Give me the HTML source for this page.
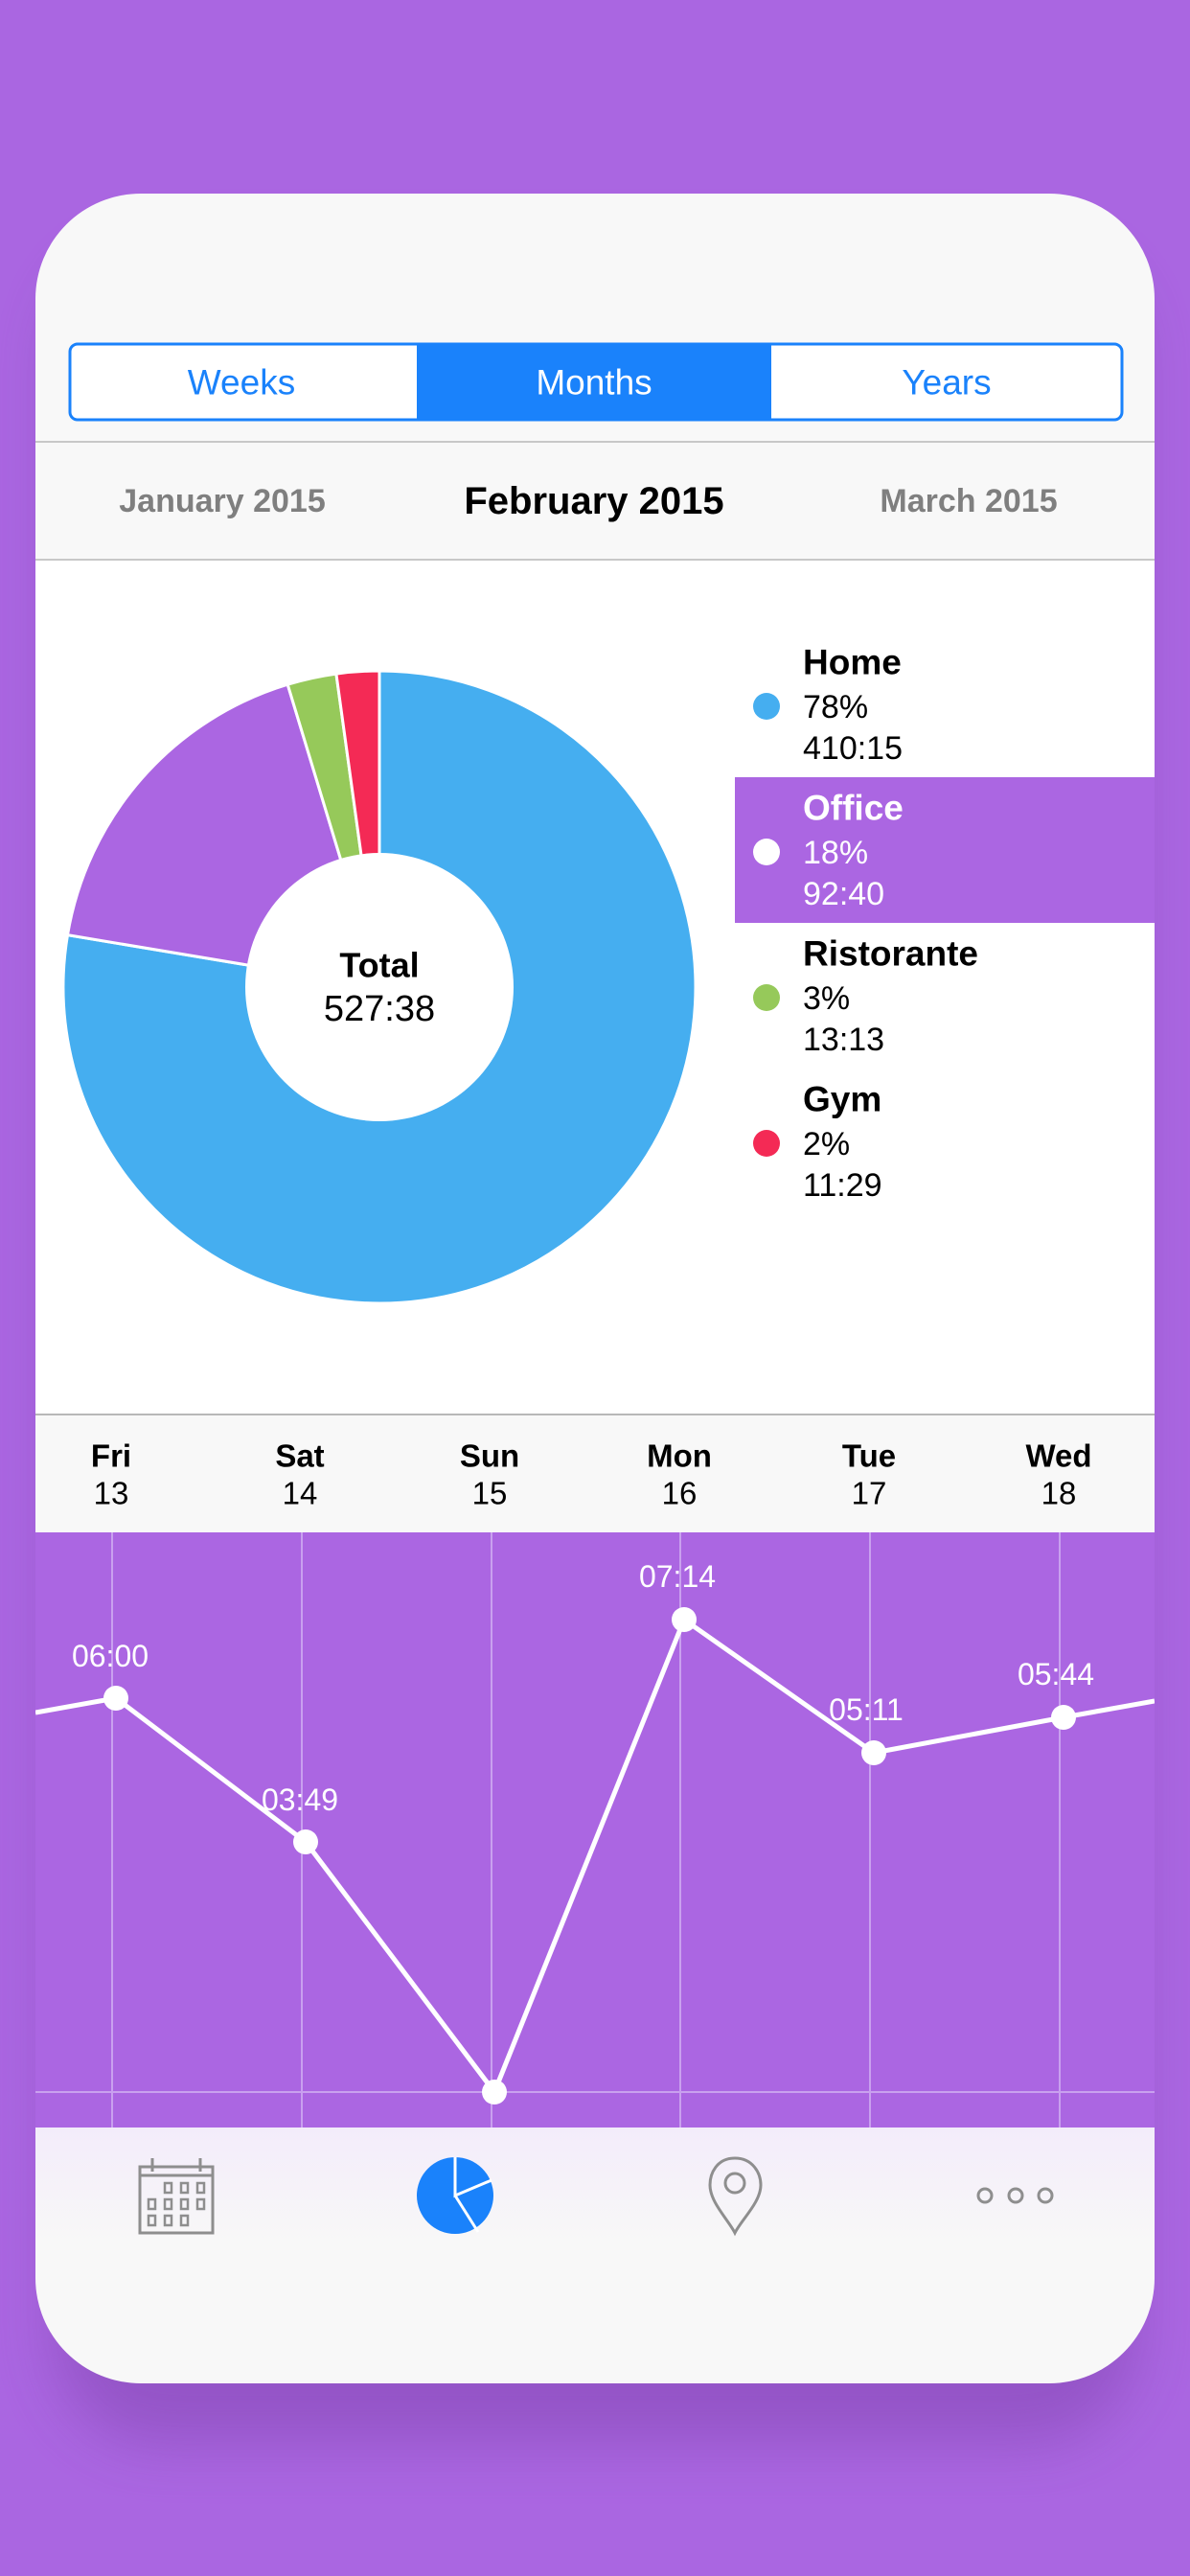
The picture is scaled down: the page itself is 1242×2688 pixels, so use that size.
<!DOCTYPE html>
<html><head><meta charset="utf-8"><style>
html,body{margin:0;padding:0;background:#aa66e1;}
svg{display:block;font-family:"Liberation Sans",sans-serif;}
</style></head><body>
<svg width="1242" height="2688" viewBox="0 0 1242 2688" xmlns="http://www.w3.org/2000/svg">
<defs>
<clipPath id="card"><rect x="37" y="202" width="1168" height="2285" rx="110" ry="110"/></clipPath>
<filter id="sh" x="-20%" y="-20%" width="140%" height="140%"><feGaussianBlur stdDeviation="30"/></filter>
<linearGradient id="tb" x1="0" y1="0" x2="0" y2="1"><stop offset="0" stop-color="#f3ecfa"/><stop offset="1" stop-color="#f8f8f8"/></linearGradient>
</defs>
<rect width="1242" height="2688" fill="#aa66e1"/>
<rect x="57" y="260" width="1128" height="2290" rx="110" fill="#7a3fa8" opacity="0.45" filter="url(#sh)"/>
<g clip-path="url(#card)">
<rect x="37" y="202" width="1168" height="2285" fill="#f8f8f8"/>
<!-- segmented -->
<rect x="73" y="359" width="1098" height="79" rx="8" fill="#fff" stroke="#1a82fb" stroke-width="3"/>
<rect x="435" y="359" width="370" height="79" fill="#1a82fb"/>
<text x="252" y="399" font-size="37" fill="#1a82fb" text-anchor="middle" dominant-baseline="central">Weeks</text>
<text x="620" y="399" font-size="37" fill="#fff" text-anchor="middle" dominant-baseline="central">Months</text>
<text x="988" y="399" font-size="37" fill="#1a82fb" text-anchor="middle" dominant-baseline="central">Years</text>
<line x1="37" y1="461" x2="1205" y2="461" stroke="#c8c8c8" stroke-width="2"/>
<text x="232" y="523" font-size="34" fill="#7f7f7f" font-weight="bold" text-anchor="middle" dominant-baseline="central">January 2015</text>
<text x="620" y="523" font-size="40" fill="#000" font-weight="bold" text-anchor="middle" dominant-baseline="central">February 2015</text>
<text x="1011" y="523" font-size="34" fill="#7f7f7f" font-weight="bold" text-anchor="middle" dominant-baseline="central">March 2015</text>
<line x1="37" y1="584" x2="1205" y2="584" stroke="#c8c8c8" stroke-width="2"/>
<rect x="37" y="585" width="1168" height="890" fill="#fff"/>
<!-- donut: center 396,1030 R330 -->
<g stroke="#fff" stroke-width="3">
<path d="M396,1030 L396,700 A330,330 0 1,1 70.5,975.6 Z" fill="#45aef0"/>
<path d="M396,1030 L70.5,975.6 A330,330 0 0,1 300.2,714.2 Z" fill="#ab66e2"/>
<path d="M396,1030 L300.2,714.2 A330,330 0 0,1 350.9,703.1 Z" fill="#96c95a"/>
<path d="M396,1030 L350.9,703.1 A330,330 0 0,1 396,700 Z" fill="#f42a55"/>
</g>
<circle cx="396" cy="1030" r="140" fill="#fff"/>
<text x="396" y="1007" font-size="36" font-weight="bold" text-anchor="middle" dominant-baseline="central">Total</text>
<text x="396" y="1053" font-size="38" text-anchor="middle" dominant-baseline="central">527:38</text>
<!-- legend -->
<rect x="767" y="811" width="438" height="152" fill="#ab66e2"/>
<g font-size="34" dominant-baseline="central">
<text x="838" y="691" font-size="37" font-weight="bold">Home</text>
<circle cx="800" cy="737" r="14" fill="#45aef0"/>
<text x="838" y="738">78%</text><text x="838" y="781">410:15</text>
<text x="838" y="843" font-size="37" font-weight="bold" fill="#fff">Office</text>
<circle cx="800" cy="889" r="14" fill="#fff"/>
<text x="838" y="890" fill="#fff">18%</text><text x="838" y="933" fill="#fff">92:40</text>
<text x="838" y="995" font-size="37" font-weight="bold">Ristorante</text>
<circle cx="800" cy="1041" r="14" fill="#96c95a"/>
<text x="838" y="1042">3%</text><text x="838" y="1085">13:13</text>
<text x="838" y="1147" font-size="37" font-weight="bold">Gym</text>
<circle cx="800" cy="1193" r="14" fill="#f42a55"/>
<text x="838" y="1194">2%</text><text x="838" y="1237">11:29</text>
</g>
<line x1="37" y1="1476" x2="1205" y2="1476" stroke="#b8b8b8" stroke-width="2"/>
<rect x="37" y="1477" width="1168" height="122" fill="#f8f8f8"/>
<g font-size="33" text-anchor="middle" dominant-baseline="central">
<g font-weight="bold">
<text x="116" y="1519">Fri</text><text x="313" y="1519">Sat</text><text x="511" y="1519">Sun</text><text x="709" y="1519">Mon</text><text x="907" y="1519">Tue</text><text x="1105" y="1519">Wed</text></g>
<text x="116" y="1558">13</text><text x="313" y="1558">14</text><text x="511" y="1558">15</text><text x="709" y="1558">16</text><text x="907" y="1558">17</text><text x="1105" y="1558">18</text>
</g>
<!-- line chart -->
<rect x="37" y="1599" width="1168" height="621" fill="#ab66e2"/>
<g stroke="#c9a0ef" stroke-width="2">
<line x1="117" y1="1599" x2="117" y2="2220"/><line x1="315" y1="1599" x2="315" y2="2220"/><line x1="513" y1="1599" x2="513" y2="2220"/><line x1="710" y1="1599" x2="710" y2="2220"/><line x1="908" y1="1599" x2="908" y2="2220"/><line x1="1106" y1="1599" x2="1106" y2="2220"/>
<line x1="37" y1="2183" x2="1205" y2="2183"/>
</g>
<polyline points="37,1787 121,1772 319,1922 516,2183 714,1690 912,1829 1110,1792 1205,1775" fill="none" stroke="#fff" stroke-width="5" stroke-linejoin="round"/>
<g fill="#fff"><circle cx="121" cy="1772" r="13"/><circle cx="319" cy="1922" r="13"/><circle cx="516" cy="2183" r="13"/><circle cx="714" cy="1690" r="13"/><circle cx="912" cy="1829" r="13"/><circle cx="1110" cy="1792" r="13"/></g>
<g font-size="32" fill="#fff" text-anchor="middle" dominant-baseline="central">
<text x="115" y="1728">06:00</text><text x="313" y="1878">03:49</text><text x="707" y="1645">07:14</text><text x="904" y="1784">05:11</text><text x="1102" y="1747">05:44</text></g>
<!-- tab bar -->
<rect x="37" y="2220" width="1168" height="120" fill="url(#tb)"/>
<g fill="none" stroke="#8e8e8e" stroke-width="3">
<rect x="146" y="2261" width="76" height="69"/><line x1="146" y1="2270" x2="222" y2="2270"/>
<line x1="159" y1="2252" x2="159" y2="2266"/><line x1="209" y1="2252" x2="209" y2="2266"/>
<g stroke-width="2.5">
<rect x="172" y="2278" width="7" height="10"/><rect x="189" y="2278" width="7" height="10"/><rect x="206" y="2278" width="7" height="10"/>
<rect x="155" y="2295" width="7" height="10"/><rect x="172" y="2295" width="7" height="10"/><rect x="189" y="2295" width="7" height="10"/><rect x="206" y="2295" width="7" height="10"/>
<rect x="155" y="2312" width="7" height="10"/><rect x="172" y="2312" width="7" height="10"/><rect x="189" y="2312" width="7" height="10"/></g>
<path d="M767,2252 C748,2252 741,2268 741,2280 C741,2298 760,2316 767,2330 C774,2316 794,2298 794,2280 C794,2268 786,2252 767,2252 Z"/>
<circle cx="767" cy="2278" r="10"/>
<circle cx="1028" cy="2291" r="7"/><circle cx="1060" cy="2291" r="7"/><circle cx="1091" cy="2291" r="7"/>
</g>
<circle cx="475" cy="2291" r="40" fill="#1a82fb"/>
<polyline points="475,2251 475,2291 513,2275" fill="none" stroke="#fff" stroke-width="3"/>
<line x1="475" y1="2291" x2="499" y2="2329" stroke="#fff" stroke-width="3"/>
</g>
</svg>
</body></html>
